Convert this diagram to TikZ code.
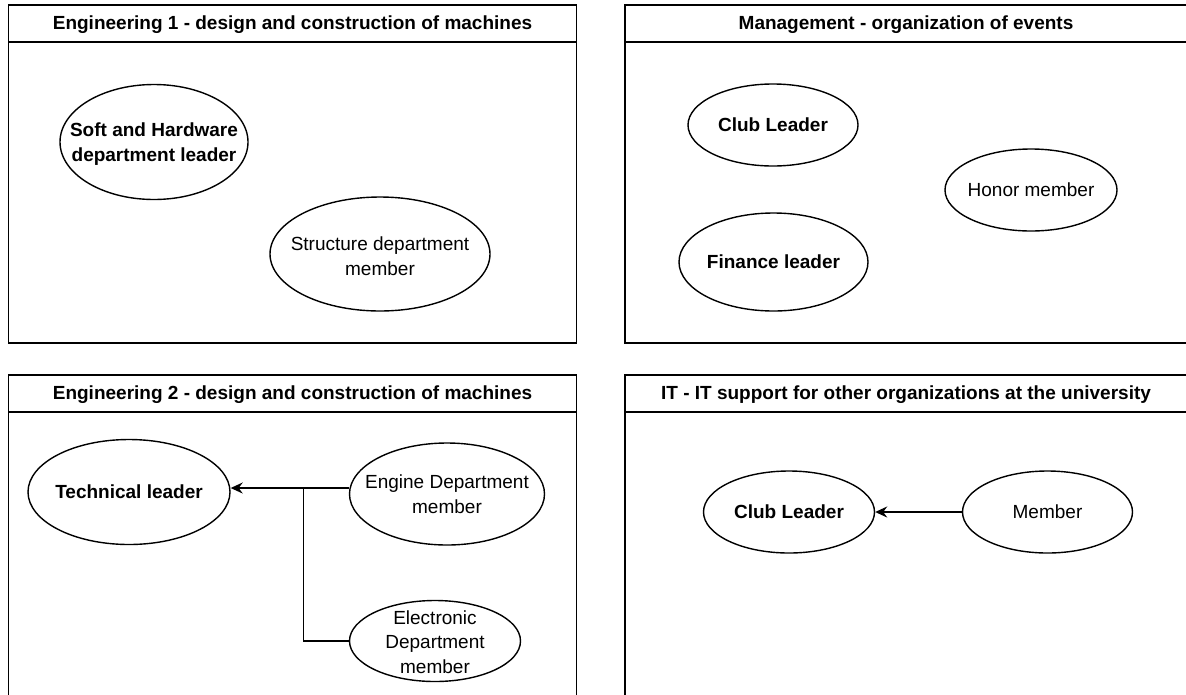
\documentclass[tikz,border=0pt]{standalone}
\usepackage{fontspec}
\setmainfont{Liberation Sans}
\usetikzlibrary{shapes.geometric,arrows.meta}
\tikzset{
  frame/.style={draw=black, line width=1.6pt},
  oval/.style={ellipse, draw=black, line width=1.4pt, inner sep=0pt},
  lbl/.style={align=center, inner sep=0pt, font=\fontsize{19}{24.5}\selectfont},
  blbl/.style={lbl, font=\fontsize{19}{24.5}\selectfont\bfseries},
  ttl/.style={inner sep=0pt, font=\fontsize{19}{23}\selectfont\bfseries},
  conn/.style={draw=black, line width=1.4pt},
  arr/.style={conn, -{Stealth[length=12pt, width=11pt, inset=4pt]}}
}
\begin{document}
\begin{tikzpicture}[x=1pt, y=-1pt]
\useasboundingbox (0,0) rectangle (1186,694);
\clip (0,0) rectangle (1186,694);
\fill[white] (0,0) rectangle (1186,694);

% ---- Panel 1: Engineering 1
\draw[frame] (8.5,5) rectangle (576.5,343);
\draw[frame] (8.5,42) -- (576.5,42);
\node[ttl] (t1) at (292.5,25) {Engineering 1 - design and construction of machines};
\node[oval, minimum width=188pt, minimum height=115pt] (soft) at (154,142) {};
\node[blbl] (softT) at (154,144) {Soft and Hardware\\department leader};
\node[oval, minimum width=220pt, minimum height=114pt] (struct) at (380,254) {};
\node[lbl] (structT) at (380,256) {Structure department\\member};

% ---- Panel 2: Management
\draw[frame] (1192,5) -- (625,5) -- (625,343) -- (1192,343);
\draw[frame] (625,42) -- (1192,42);
\node[ttl] (t2) at (906,25) {Management - organization of events};
\node[oval, minimum width=170pt, minimum height=82pt] (club1) at (773,125) {};
\node[blbl] (club1T) at (club1) {Club Leader};
\node[oval, minimum width=172pt, minimum height=82pt] (honor) at (1031,190) {};
\node[lbl] (honorT) at (honor) {Honor member};
\node[oval, minimum width=189pt, minimum height=98pt] (fin) at (773.5,262) {};
\node[blbl] (finT) at (fin) {Finance leader};

% ---- Panel 3: Engineering 2
\draw[frame] (8.5,700) -- (8.5,375) -- (576.5,375) -- (576.5,700);
\draw[frame] (8.5,412) -- (576.5,412);
\node[ttl] (t3) at (292.5,395) {Engineering 2 - design and construction of machines};
\node[oval, minimum width=202pt, minimum height=105pt] (tech) at (129,492) {};
\node[blbl] (techT) at (tech) {Technical leader};
\node[oval, minimum width=195pt, minimum height=102pt] (engine) at (447,494) {};
\node[lbl] (engineT) at (447,494) {Engine Department\\member};
\node[oval, minimum width=171pt, minimum height=81pt] (elec) at (435,641) {};
\node[lbl] (elecT) at (435,642) {Electronic\\Department\\member};
\coordinate (j) at (303.5,488);
\draw[arr] (engine.west |- j) -- (tech.east |- j);
\draw[conn] (elec.west) -- (j |- elec.west) -- (j);

% ---- Panel 4: IT
\draw[frame] (1192,375) -- (625,375) -- (625,700);
\draw[frame] (625,412) -- (1192,412);
\node[ttl] (t4) at (906,395) {IT - IT support for other organizations at the university};
\node[oval, minimum width=171pt, minimum height=82pt] (club2) at (789,512) {};
\node[blbl] (club2T) at (club2) {Club Leader};
\node[oval, minimum width=170pt, minimum height=82pt] (mem) at (1047.5,512) {};
\node[lbl] (memT) at (mem) {Member};
\draw[arr] (mem.west) -- (club2.east);
\end{tikzpicture}
\end{document}
